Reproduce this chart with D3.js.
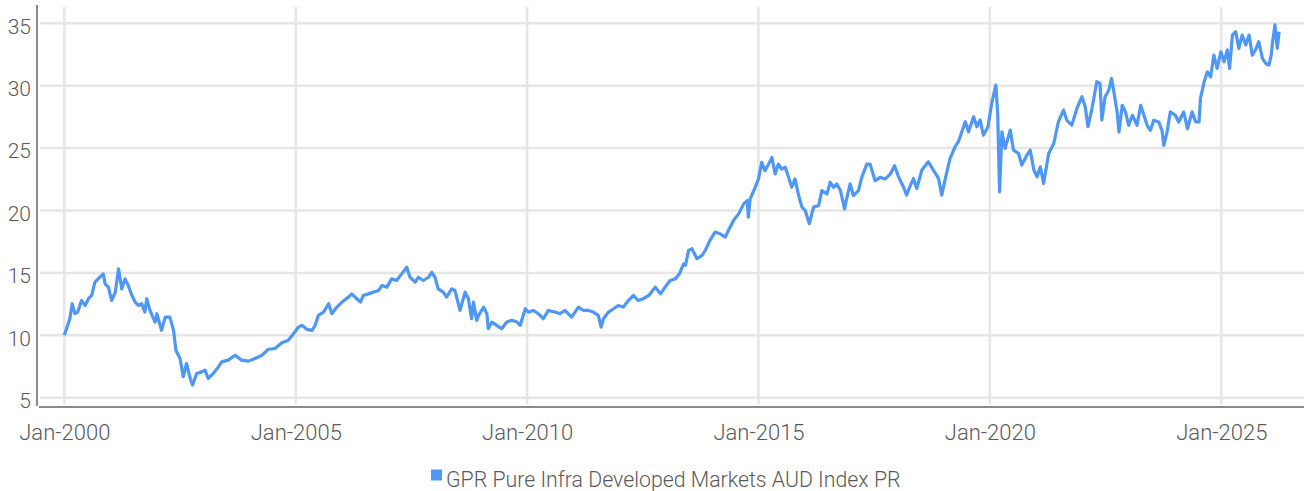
<!DOCTYPE html>
<html lang="en">
<head>
  <meta charset="UTF-8">
  <title>GPR Pure Infra Developed Markets AUD Index PR</title>
  <style>
    body { margin: 0; background: #fff; }
    .tick text { font-family: Roboto, sans-serif; font-weight: 300; fill: #5a5a5a; }
    .legend text { font-family: Roboto, sans-serif; font-weight: 300; fill: #5a5a5a; }
  </style>
</head>
<body>
  <div id="chart"></div>

  <script src="https://d3js.org/d3.v7.min.js"></script>
  <script>
    // Series (decimal years -> index level)
    const dates = [
      2000.00, 2000.12, 2000.17, 2000.23, 2000.29, 2000.37, 2000.45, 2000.52, 2000.59, 2000.66,
      2000.73, 2000.84, 2000.88, 2000.95, 2001.02, 2001.10, 2001.17, 2001.24, 2001.31, 2001.38,
      2001.46, 2001.53, 2001.60, 2001.67, 2001.74, 2001.78, 2001.85, 2001.96, 2002.00, 2002.10,
      2002.18, 2002.28, 2002.36, 2002.41, 2002.50, 2002.57, 2002.64, 2002.72, 2002.77, 2002.86,
      2002.97, 2003.04, 2003.11, 2003.22, 2003.33, 2003.40, 2003.54, 2003.69, 2003.83, 2003.98,
      2004.12, 2004.27, 2004.41, 2004.55, 2004.70, 2004.84, 2004.95, 2005.06, 2005.13, 2005.24,
      2005.35, 2005.42, 2005.49, 2005.60, 2005.71, 2005.78, 2005.89, 2006.00, 2006.14, 2006.21,
      2006.32, 2006.40, 2006.46, 2006.57, 2006.68, 2006.79, 2006.86, 2006.97, 2007.07, 2007.18,
      2007.29, 2007.40, 2007.47, 2007.58, 2007.65, 2007.76, 2007.87, 2007.94, 2008.01, 2008.08,
      2008.19, 2008.26, 2008.37, 2008.44, 2008.55, 2008.66, 2008.73, 2008.80, 2008.84, 2008.91,
      2008.95, 2009.06, 2009.13, 2009.16, 2009.24, 2009.34, 2009.45, 2009.56, 2009.67, 2009.78,
      2009.85, 2009.96, 2010.03, 2010.14, 2010.24, 2010.35, 2010.46, 2010.61, 2010.71, 2010.82,
      2010.96, 2011.11, 2011.22, 2011.33, 2011.43, 2011.54, 2011.60, 2011.65, 2011.76, 2011.87,
      2011.97, 2012.08, 2012.19, 2012.30, 2012.40, 2012.51, 2012.63, 2012.77, 2012.88, 2012.98,
      2013.09, 2013.20, 2013.29, 2013.38, 2013.42, 2013.49, 2013.56, 2013.67, 2013.78, 2013.85,
      2013.95, 2014.06, 2014.17, 2014.28, 2014.35, 2014.46, 2014.57, 2014.68, 2014.76, 2014.78,
      2014.82, 2014.93, 2015.00, 2015.07, 2015.14, 2015.22, 2015.29, 2015.36, 2015.43, 2015.50,
      2015.58, 2015.65, 2015.72, 2015.79, 2015.86, 2015.94, 2016.01, 2016.10, 2016.19, 2016.30,
      2016.37, 2016.48, 2016.55, 2016.62, 2016.69, 2016.77, 2016.86, 2016.91, 2016.98, 2017.05,
      2017.16, 2017.23, 2017.34, 2017.41, 2017.52, 2017.63, 2017.74, 2017.85, 2017.94, 2018.03,
      2018.13, 2018.20, 2018.27, 2018.35, 2018.42, 2018.53, 2018.67, 2018.78, 2018.89, 2018.96,
      2019.03, 2019.14, 2019.25, 2019.32, 2019.47, 2019.54, 2019.65, 2019.72, 2019.79, 2019.86,
      2019.96, 2020.04, 2020.13, 2020.17, 2020.21, 2020.26, 2020.33, 2020.44, 2020.51, 2020.62,
      2020.69, 2020.80, 2020.87, 2020.95, 2021.02, 2021.09, 2021.16, 2021.27, 2021.38, 2021.48,
      2021.59, 2021.66, 2021.77, 2021.88, 2021.99, 2022.06, 2022.12, 2022.20, 2022.31, 2022.38,
      2022.42, 2022.49, 2022.57, 2022.63, 2022.68, 2022.75, 2022.79, 2022.86, 2022.93, 2023.00,
      2023.08, 2023.18, 2023.26, 2023.33, 2023.40, 2023.47, 2023.54, 2023.65, 2023.72, 2023.76,
      2023.83, 2023.90, 2024.01, 2024.08, 2024.19, 2024.27, 2024.37, 2024.45, 2024.52, 2024.55,
      2024.63, 2024.70, 2024.77, 2024.84, 2024.91, 2024.99, 2025.06, 2025.13, 2025.18, 2025.24,
      2025.31, 2025.38, 2025.45, 2025.53, 2025.60, 2025.67, 2025.74, 2025.81, 2025.89, 2025.96,
      2026.03, 2026.08, 2026.11, 2026.16, 2026.21, 2026.25
    ];

    const values = [
      10.00, 11.33, 12.53, 11.73, 11.86, 12.79, 12.39, 12.93, 13.19, 14.26,
      14.52, 14.92, 14.12, 13.86, 12.79, 13.46, 15.32, 13.72, 14.52, 13.99,
      13.19, 12.66, 12.39, 12.53, 11.86, 12.93, 12.00, 11.06, 11.73, 10.40,
      11.46, 11.46, 10.40, 8.80, 8.14, 6.68, 7.74, 6.54, 6.01, 6.94,
      7.07, 7.21, 6.54, 6.94, 7.47, 7.87, 8.01, 8.40, 8.01, 7.93,
      8.14, 8.40, 8.88, 8.94, 9.41, 9.60, 10.13, 10.66, 10.80, 10.48,
      10.40, 10.80, 11.60, 11.86, 12.53, 11.73, 12.26, 12.66, 13.06, 13.32,
      12.93, 12.66, 13.19, 13.32, 13.46, 13.59, 13.99, 13.86, 14.52, 14.39,
      14.92, 15.45, 14.65, 14.26, 14.65, 14.39, 14.65, 15.05, 14.65, 13.72,
      13.46, 13.06, 13.72, 13.59, 12.00, 13.46, 12.93, 11.33, 12.66, 11.20,
      11.60, 12.26, 11.73, 10.53, 11.06, 10.80, 10.53, 11.06, 11.20, 11.06,
      10.80, 12.13, 11.86, 11.99, 11.73, 11.33, 11.99, 11.86, 11.73, 11.99,
      11.46, 12.26, 11.99, 11.99, 11.86, 11.60, 10.66, 11.33, 11.86, 12.13,
      12.39, 12.26, 12.79, 13.19, 12.79, 12.93, 13.19, 13.86, 13.32, 13.86,
      14.39, 14.52, 14.92, 15.72, 15.61, 16.81, 16.94, 16.14, 16.41, 16.81,
      17.61, 18.27, 18.14, 17.87, 18.40, 19.20, 19.73, 20.53, 20.80, 19.47,
      20.93, 21.86, 22.53, 23.86, 23.19, 23.72, 24.26, 22.93, 23.72, 23.32,
      23.46, 22.66, 21.86, 22.53, 21.33, 20.27, 20.00, 18.94, 20.27, 20.40,
      21.60, 21.33, 22.26, 21.86, 22.13, 21.60, 20.13, 21.06, 22.13, 21.20,
      21.60, 22.66, 23.72, 23.72, 22.39, 22.66, 22.53, 22.93, 23.59, 22.66,
      21.90, 21.23, 21.90, 22.57, 21.76, 23.24, 23.90, 23.24, 22.57, 21.23,
      22.43, 24.17, 25.11, 25.51, 27.11, 26.31, 27.51, 26.71, 27.25, 26.04,
      26.71, 28.58, 30.05, 27.78, 21.50, 26.31, 24.97, 26.44, 24.84, 24.57,
      23.64, 24.44, 24.84, 23.24, 22.70, 23.50, 22.17, 24.57, 25.37, 27.11,
      28.05, 27.25, 26.84, 28.18, 29.12, 28.32, 26.71, 28.05, 30.32, 30.19,
      27.25, 29.12, 29.64, 30.58, 29.50, 27.90, 26.29, 28.43, 27.90, 26.82,
      27.63, 26.82, 28.43, 27.63, 26.82, 26.42, 27.23, 27.09, 26.42, 25.21,
      26.29, 27.90, 27.63, 27.09, 27.90, 26.55, 27.90, 27.09, 27.09, 28.97,
      30.31, 31.11, 30.71, 32.45, 31.38, 32.72, 31.92, 32.86, 31.38, 34.06,
      34.33, 32.99, 34.06, 33.26, 34.06, 32.45, 32.86, 33.53, 32.18, 31.78,
      31.65, 32.45, 33.53, 34.87, 32.99, 34.33
    ];

    const yTicks = [5, 10, 15, 20, 25, 30, 35];
    const xTickYears = [2000, 2005, 2010, 2015, 2020, 2025];
    const seriesName = "GPR Pure Infra Developed Markets AUD Index PR";

    const width = 1304, height = 491;
    const lineColor = "#4f97f7";
    const gridColor = "#e6e6e6";
    const axisColor = "#8a8a8a";

    // decimal year -> Date
    function toDate(y) {
      const yr = Math.floor(y);
      const a = new Date(yr, 0, 1), b = new Date(yr + 1, 0, 1);
      return new Date(+a + (y - yr) * (b - a));
    }

    const data = dates.map((d, i) => ({ date: toDate(d), value: values[i] }));

    const svg = d3.select("#chart").append("svg")
      .attr("width", width)
      .attr("height", height);

    const x = d3.scaleTime()
      .domain([new Date(2000, 0, 1), new Date(2025, 0, 1)])
      .range([64.3, 1221.3]);

    const y = d3.scaleLinear()
      .domain([5, 35])
      .range([397.7, 23.3]);

    const plotLeft = 40, plotRight = width;

    // horizontal gridlines
    svg.append("g").selectAll("line")
      .data(yTicks)
      .enter().append("line")
      .attr("x1", plotLeft).attr("x2", plotRight)
      .attr("y1", d => y(d)).attr("y2", d => y(d))
      .attr("stroke", gridColor)
      .attr("stroke-width", 2.5);

    // vertical gridlines
    const xTicks = xTickYears.map(yr => new Date(yr, 0, 1));
    svg.append("g").selectAll("line")
      .data(xTicks)
      .enter().append("line")
      .attr("x1", d => x(d)).attr("x2", d => x(d))
      .attr("y1", 7).attr("y2", 404)
      .attr("stroke", gridColor)
      .attr("stroke-width", 2.5);

    // axis lines
    svg.append("line")
      .attr("x1", 37).attr("x2", 37).attr("y1", 5).attr("y2", 406)
      .attr("stroke", axisColor).attr("stroke-width", 2);
    svg.append("line")
      .attr("x1", 39).attr("x2", plotRight).attr("y1", 407).attr("y2", 407)
      .attr("stroke", axisColor).attr("stroke-width", 2);

    // x tick labels
    const xAxis = svg.append("g")
      .attr("transform", "translate(0,407)")
      .call(d3.axisBottom(x).tickValues(xTicks).tickFormat(d3.timeFormat("%b-%Y")).tickSize(0).tickPadding(17));
    xAxis.select(".domain").remove();
    xAxis.selectAll("text").style("font-size", "22px");

    // y tick labels
    const yAxis = svg.append("g")
      .attr("transform", "translate(37,3)")
      .call(d3.axisLeft(y).tickValues(yTicks).tickSize(0).tickPadding(6));
    yAxis.select(".domain").remove();
    yAxis.selectAll("text").style("font-size", "21px");

    // series line
    const line = d3.line()
      .x(d => x(d.date))
      .y(d => y(d.value));

    svg.append("path")
      .datum(data)
      .attr("fill", "none")
      .attr("stroke", lineColor)
      .attr("stroke-width", 3.2)
      .attr("stroke-linejoin", "round")
      .attr("d", line);

    // legend
    const legend = svg.append("g").attr("class", "legend");
    legend.append("rect")
      .attr("x", 431).attr("y", 469.5)
      .attr("width", 11).attr("height", 11)
      .attr("fill", lineColor);
    legend.append("text")
      .attr("x", 446).attr("y", 487)
      .style("font-size", "21.3px")
      .text(seriesName);
  </script>
</body>
</html>
